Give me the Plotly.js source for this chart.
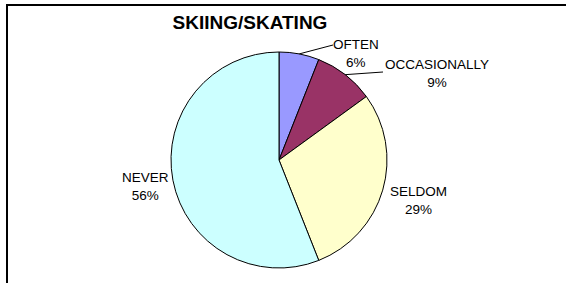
<!DOCTYPE html>
<html><head><meta charset="utf-8">
<script src="https://cdn.plot.ly/plotly-3.0.1.min.js"></script>
<style>html,body{margin:0;padding:0;background:#fff;}#chart{width:566px;height:283px;}</style>
</head><body><div id="chart"></div>
<script>
const categories = ['OFTEN', 'OCCASIONALLY', 'SELDOM', 'NEVER'];
const values = [6, 9, 29, 56];
const colors = ['#9999FF', '#993366', '#FFFFCC', '#CCFFFF'];
const chartTitle = 'SKIING/SKATING';

const W = 566, H = 283;
const cx = 279, cy = 160, R = 108;
const font = 'Arial, "Liberation Sans", sans-serif';

const total = values.reduce((a, b) => a + b, 0);
const mids = [];
let acc = 0;
values.forEach(v => { mids.push((acc + v / 2) / total * 2 * Math.PI); acc += v; });
const edge = i => [cx + R * Math.sin(mids[i]), cy - R * Math.cos(mids[i])];

// label text centres (px) and leader ends (null = no leader)
const labelPos = [[356, 53], [437, 73], [418, 200], [145, 186]];
const leaderEnd = [[333, 45], [383, 72], null, null];

const px = x => x / W, py = y => 1 - y / H;

const annotations = categories.map((c, i) => ({
  xref: 'paper', yref: 'paper', x: px(labelPos[i][0]), y: py(labelPos[i][1]),
  xanchor: 'center', yanchor: 'middle', showarrow: false, align: 'center',
  text: c + '<br>' + Math.round(values[i] / total * 100) + '%',
  font: {family: font, size: 13.5, color: '#000'}
}));

const shapes = [{
  type: 'rect', xref: 'paper', yref: 'paper',
  x0: px(7), x1: px(600), y0: py(320), y1: py(5),
  line: {color: '#000', width: 2}, fillcolor: 'rgba(0,0,0,0)'
}];
leaderEnd.forEach((e, i) => {
  if (!e) return;
  const p = edge(i);
  shapes.push({type: 'line', xref: 'paper', yref: 'paper',
    x0: px(p[0]), y0: py(p[1]), x1: px(e[0]), y1: py(e[1]),
    line: {color: '#000', width: 1}});
});

const trace = {
  type: 'pie', labels: categories, values: values, sort: false,
  direction: 'clockwise', rotation: 0,
  marker: {colors: colors, line: {color: '#000', width: 1}},
  textinfo: 'none', hoverinfo: 'none', showlegend: false,
  domain: {x: [px(cx - R), px(cx + R)], y: [py(cy + R), py(cy - R)]}
};

const layout = {
  width: W, height: H, margin: {l: 0, r: 0, t: 0, b: 0},
  paper_bgcolor: '#fff', plot_bgcolor: '#fff', showlegend: false,
  title: {text: '<b>' + chartTitle + '</b>', x: 250 / W, xanchor: 'center',
    y: 1 - 22 / H, yanchor: 'middle', yref: 'container',
    font: {family: font, size: 19, color: '#000'}},
  annotations: annotations, shapes: shapes
};

Plotly.newPlot('chart', [trace], layout, {staticPlot: true, displayModeBar: false});
</script></body></html>
